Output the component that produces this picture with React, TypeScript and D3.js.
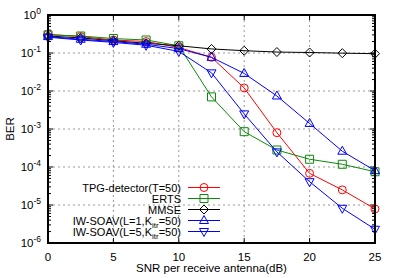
import React, { useEffect, useRef } from 'react';
import * as d3 from 'd3';

const snr = [0, 2.5, 5, 7.5, 10, 12.5, 15, 17.5, 20, 22.5, 25];
const tpg = [0.31, 0.27, 0.22, 0.2, 0.14, 0.077, 0.012, 8e-4, 6.8e-5, 2.5e-5, 7.9e-6];
const erts = [0.3, 0.28, 0.24, 0.22, 0.155, 7e-3, 8.5e-4, 2.8e-4, 1.6e-4, 1.18e-4, 7.5e-5];
const mmse = [0.28, 0.25, 0.21, 0.18, 0.155, 0.128, 0.115, 0.106, 0.103, 0.099, 0.096];
const soav1 = [0.27, 0.23, 0.2, 0.17, 0.13, 0.077, 0.029, 7.4e-3, 1.4e-3, 2.6e-4, 8e-5];
const soav5 = [0.26, 0.22, 0.19, 0.16, 0.11, 0.03, 2.5e-3, 2.5e-4, 4.1e-5, 8.2e-6, 2.3e-6];
const xTicks = [0, 5, 10, 15, 20, 25];
const yExps = [0, -1, -2, -3, -4, -5, -6];

const series = [
  { name: 'TPG-detector(T=50)', sub: null, values: tpg, color: '#ff0000', marker: 'circle' },
  { name: 'ERTS', sub: null, values: erts, color: '#0a8a0a', marker: 'square' },
  { name: 'MMSE', sub: null, values: mmse, color: '#000000', marker: 'diamond' },
  { name: 'IW-SOAV(L=1,K', sub: 'itr', rest: '=50)', values: soav1, color: '#0000ff', marker: 'up' },
  { name: 'IW-SOAV(L=5,K', sub: 'itr', rest: '=50)', values: soav5, color: '#0000ff', marker: 'down' },
];

function markerPath(kind: string) {
  if (kind === 'circle') return d3.symbol(d3.symbolCircle, 50)();
  if (kind === 'square') return 'M-4,-4H4V4H-4Z';
  if (kind === 'diamond') return 'M0,-4.5L4.5,0L0,4.5L-4.5,0Z';
  if (kind === 'up') return 'M0,-5L4.5,3L-4.5,3Z';
  return 'M0,5L4.5,-3L-4.5,-3Z';
}

export default function App() {
  const ref = useRef<SVGSVGElement>(null);
  const W = 398, H = 278;
  const left = 48, right = 375, top = 15, bottom = 243;

  useEffect(() => {
    const svg = d3.select(ref.current);
    svg.selectAll('*').remove();
    const x = d3.scaleLinear().domain([0, 25]).range([left, right]);
    const y = d3.scaleLog().domain([1e-6, 1]).range([bottom, top]);
    const font = 'Liberation Sans, Arial, sans-serif';

    // grid
    const grid = svg.append('g').attr('stroke', '#999').attr('stroke-width', 1).attr('stroke-dasharray', '2,3');
    xTicks.slice(1, -1).forEach(t => {
      grid.append('line').attr('x1', x(t)).attr('x2', x(t)).attr('y1', top).attr('y2', bottom);
    });
    yExps.slice(1, -1).forEach(e => {
      grid.append('line').attr('x1', left).attr('x2', right).attr('y1', y(Math.pow(10, e))).attr('y2', y(Math.pow(10, e)));
    });

    // ticks
    const ticks = svg.append('g').attr('stroke', '#000').attr('stroke-width', 1);
    xTicks.forEach(t => {
      ticks.append('line').attr('x1', x(t)).attr('x2', x(t)).attr('y1', bottom).attr('y2', bottom - 5);
      ticks.append('line').attr('x1', x(t)).attr('x2', x(t)).attr('y1', top).attr('y2', top + 5);
    });
    yExps.forEach(e => {
      const v = Math.pow(10, e);
      ticks.append('line').attr('x1', left).attr('x2', left + 5).attr('y1', y(v)).attr('y2', y(v));
      ticks.append('line').attr('x1', right).attr('x2', right - 5).attr('y1', y(v)).attr('y2', y(v));
      if (e < 0) {
        for (let m = 2; m <= 9; m++) {
          const yy = y(m * v);
          ticks.append('line').attr('x1', left).attr('x2', left + 3).attr('y1', yy).attr('y2', yy);
          ticks.append('line').attr('x1', right).attr('x2', right - 3).attr('y1', yy).attr('y2', yy);
        }
      }
    });

    // series
    series.forEach(s => {
      const g = svg.append('g');
      const pts = snr.map((d, i) => [x(d), y(s.values[i])] as [number, number]);
      g.append('path').attr('d', d3.line()(pts)).attr('fill', 'none').attr('stroke', s.color).attr('stroke-width', 1);
      g.selectAll('path.m').data(pts).enter().append('path').attr('class', 'm')
        .attr('d', markerPath(s.marker)).attr('transform', d => `translate(${d[0]},${d[1]})`)
        .attr('fill', 'none').attr('stroke', s.color).attr('stroke-width', 1);
    });

    // frame
    svg.append('rect').attr('x', left).attr('y', top).attr('width', right - left).attr('height', bottom - top)
      .attr('fill', 'none').attr('stroke', '#000').attr('stroke-width', 2);

    // tick labels
    xTicks.forEach(t => {
      svg.append('text').attr('x', x(t)).attr('y', 261).attr('text-anchor', 'middle')
        .attr('font-family', font).attr('font-size', 11.5).text(t);
    });
    yExps.forEach(e => {
      const t = svg.append('text').attr('x', 41).attr('y', y(Math.pow(10, e)) + 4).attr('text-anchor', 'end')
        .attr('font-family', font).attr('font-size', 11.5);
      t.append('tspan').text('10');
      t.append('tspan').attr('dy', -5).attr('font-size', 8.5).text(String(e));
    });

    // axis titles
    svg.append('text').attr('x', (left + right) / 2).attr('y', 272).attr('text-anchor', 'middle')
      .attr('font-family', font).attr('font-size', 11.5).text('SNR per receive antenna(dB)');
    svg.append('text').attr('transform', `translate(14,${(top + bottom) / 2}) rotate(-90)`).attr('text-anchor', 'middle')
      .attr('font-family', font).attr('font-size', 11.5).text('BER');

    // legend
    series.forEach((s, i) => {
      const ly = 187.5 + i * 11;
      const t = svg.append('text').attr('x', 181).attr('y', ly + 4).attr('text-anchor', 'end')
        .attr('font-family', font).attr('font-size', 11);
      t.append('tspan').text(s.name);
      if (s.sub) {
        t.append('tspan').attr('dy', 3).attr('font-size', 8).text(s.sub);
        t.append('tspan').attr('dy', -3).text(s.rest);
      }
      svg.append('line').attr('x1', 188).attr('x2', 220).attr('y1', ly).attr('y2', ly)
        .attr('stroke', s.color).attr('stroke-width', 1);
      svg.append('path').attr('d', markerPath(s.marker)).attr('transform', `translate(204,${ly})`)
        .attr('fill', 'none').attr('stroke', s.color).attr('stroke-width', 1);
    });
  }, []);

  return (
    <svg ref={ref} width={W} height={H} style={{ position: 'absolute', left: 0, top: 0, background: '#fff' }} />
  );
}
